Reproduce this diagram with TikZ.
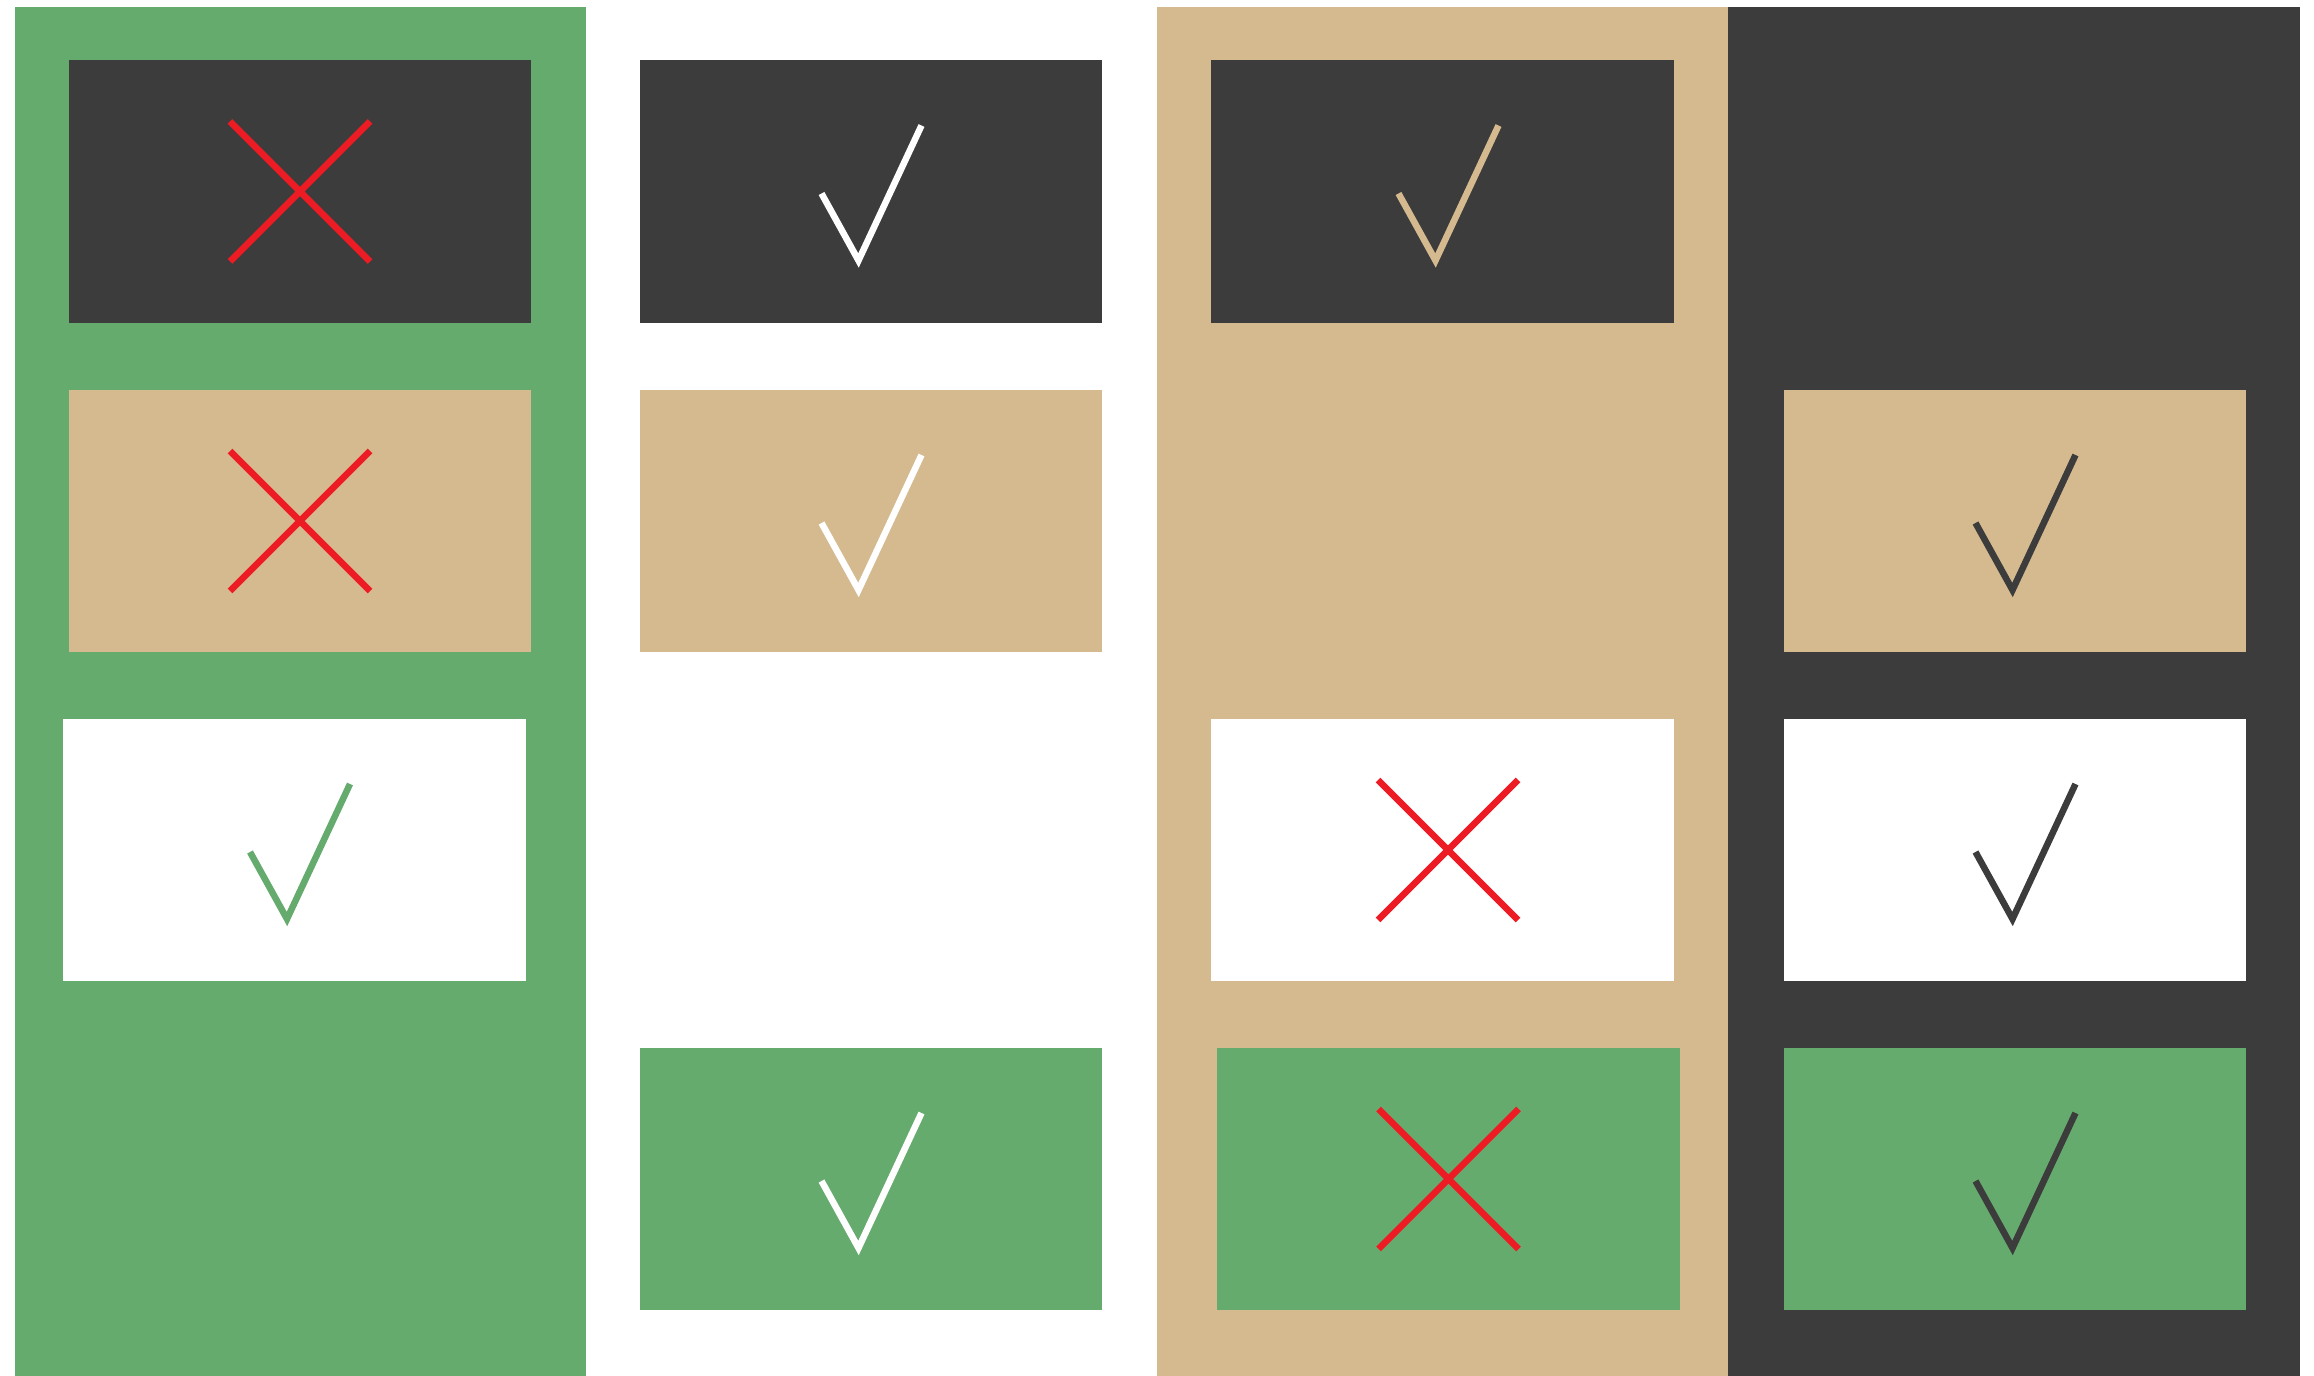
\documentclass[tikz,border=0pt]{standalone}
\definecolor{cgreen}{HTML}{66AB6E}
\definecolor{ctan}{HTML}{D5B98F}
\definecolor{cdark}{HTML}{3C3C3C}
\definecolor{cred}{HTML}{ED1C24}
\tikzset{
  panel/.style={inner sep=0pt, outer sep=0pt, minimum width=4.62cm, minimum height=2.625cm, draw=none},
  markline/.style={line width=1.85pt, line cap=butt, line join=miter},
}
\newcommand\chkmark[3]{\draw[markline,draw=#3,shift={(#1,#2)}] (-50,2) -- (-13,69) -- (50,-66);}
\newcommand\crossmark[2]{\draw[markline,draw=cred,shift={(#1,#2)}] (-70,-70) -- (70,70) (-70,70) -- (70,-70);}
\begin{document}
\begin{tikzpicture}[x=0.01cm,y=-0.01cm]
\useasboundingbox (0,0) rectangle (2314,1376);
\fill[white] (0,0) rectangle (2314,1376);
% columns
\fill[cgreen] (15,7) rectangle (586,1376);
\fill[ctan] (1157,7) rectangle (1728,1376);
\fill[cdark] (1728,7) rectangle (2300,1376);
% column 1
\node[panel, fill=cdark] (a1) at (300,191.5) {};
\node[panel, fill=ctan] (a2) at (300,521) {};
\node[panel, fill=white] (a3) at (294.5,850) {};
% column 2
\node[panel, fill=cdark] (b1) at (871.3,191.5) {};
\node[panel, fill=ctan] (b2) at (871.3,521) {};
\node[panel, fill=cgreen] (b4) at (871.3,1179) {};
% column 3
\node[panel, fill=cdark] (c1) at (1442.6,191.5) {};
\node[panel, fill=white] (c3) at (1442.6,850) {};
\node[panel, fill=cgreen] (c4) at (1448.5,1179) {};
% column 4
\node[panel, fill=ctan] (d2) at (2015,521) {};
\node[panel, fill=white] (d3) at (2015,850) {};
\node[panel, fill=cgreen] (d4) at (2015,1179) {};
% marks
\crossmark{300}{191.5}
\crossmark{300}{521}
\chkmark{300}{850}{cgreen}
\chkmark{871.5}{191.5}{white}
\chkmark{871.5}{521}{white}
\chkmark{871.5}{1179}{white}
\chkmark{1448.5}{191.5}{ctan}
\crossmark{1448}{850}
\crossmark{1448.5}{1179}
\chkmark{2025.5}{521}{cdark}
\chkmark{2025.5}{850}{cdark}
\chkmark{2025.5}{1179}{cdark}
\end{tikzpicture}
\end{document}
